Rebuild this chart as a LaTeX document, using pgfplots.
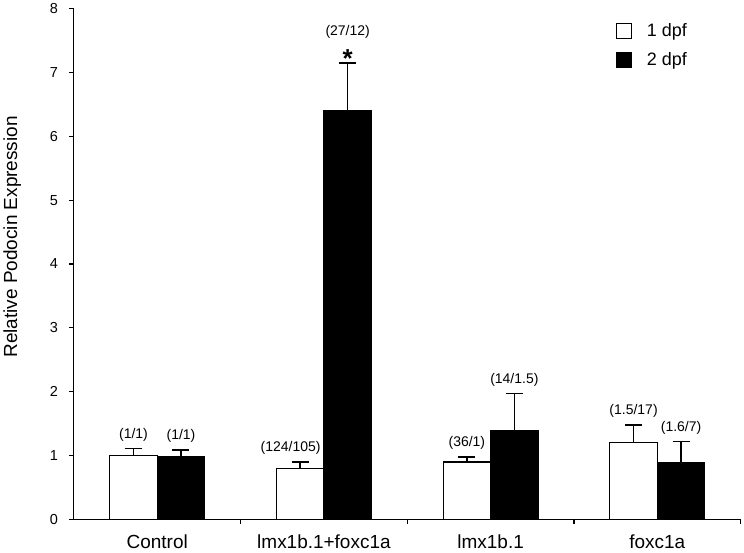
\documentclass[border=0pt]{standalone}
\usepackage{fontspec}
\setmainfont{Liberation Sans}
\usepackage{pgfplots}
\usepackage{pgfplotstable}
\pgfplotsset{compat=1.18}
\pgfplotstableread{
x y1 e1 y2 e2
0 1.00 0.11 0.99 0.10
1 0.80 0.10 6.40 0.75
2 0.90 0.08 1.39 0.58
3 1.20 0.28 0.89 0.33
}\podocin
\begin{document}
\begin{tikzpicture}
\begin{axis}[
  scale only axis,width=668pt,height=512pt,
  xmin=-0.5,xmax=3.5,ymin=0,ymax=8,
  axis x line*=bottom,axis y line*=left,
  axis line style={line width=1.2pt},
  ytick={0,1,2,3,4,5,6,7,8},
  xtick={0.5,1.5,2.5,3.5},xticklabels={},
  extra x ticks={0,1,2,3},
  extra x tick labels={Control,lmx1b.1+foxc1a,lmx1b.1,foxc1a},
  extra x tick style={major tick length=0pt,
    tick label style={font=\fontsize{19}{22}\selectfont,yshift=-12pt}},
  tick align=outside,major tick length=4.5pt,
  tick style={line width=1.2pt,black},
  yticklabel style={font=\fontsize{14.5}{16}\selectfont,xshift=-8pt},
  /pgf/number format/assume math mode=true,
  ylabel={Relative Podocin Expression},
  ylabel style={font=\fontsize{19}{22}\selectfont,at={(ticklabel cs:0.553,22pt)}},
  legend style={at={(rel axis cs:0.927,0.979)},anchor=north east,draw=none,
    font=\fontsize{18}{21}\selectfont,row sep=11pt},
  legend image code/.code={\draw[#1,line width=1pt] (0pt,-7.5pt) rectangle (15pt,7.5pt);
    \path[draw=none,fill=none] (0pt,0pt) -- (28pt,0pt);},
  clip=false,
]
\addplot[ybar,bar width=0.285,bar shift=0pt,fill=white,draw=black,line width=1.2pt,
  error bars/.cd,y dir=plus,y explicit,
  error bar style={line width=1.6pt,black},
  error mark options={rotate=90,line width=1.6pt,black,mark size=8.5pt}]
  table[x expr=\thisrow{x}-0.1425,y=y1,y error=e1]{\podocin};
\addlegendentry{1 dpf}
\addplot[ybar,bar width=0.285,bar shift=0pt,fill=black,draw=black,line width=1.2pt,
  error bars/.cd,y dir=plus,y explicit,
  error bar style={line width=1.6pt,black},
  error mark options={rotate=90,line width=1.6pt,black,mark size=8.5pt}]
  table[x expr=\thisrow{x}+0.1425,y=y2,y error=e2]{\podocin};
\addlegendentry{2 dpf}
\begin{scope}[every node/.style={font=\fontsize{14}{16}\selectfont,anchor=south,yshift=4pt}]
\node at (axis cs:-0.1425,1.11) {(1/1)};
\node at (axis cs:0.1425,1.09) {(1/1)};
\node at (axis cs:0.80,0.90) {(124/105)};
\node at (axis cs:1.1425,7.15) [yshift=17pt] {(27/12)};
\node at (axis cs:1.1425,7.15) [font=\fontsize{26}{26}\selectfont\bfseries,yshift=-12pt] {*};
\node at (axis cs:1.8575,0.98) {(36/1)};
\node at (axis cs:2.1425,1.97) {(14/1.5)};
\node at (axis cs:2.8575,1.48) {(1.5/17)};
\node at (axis cs:3.1425,1.22) {(1.6/7)};
\end{scope}
\end{axis}
\end{tikzpicture}
\end{document}
